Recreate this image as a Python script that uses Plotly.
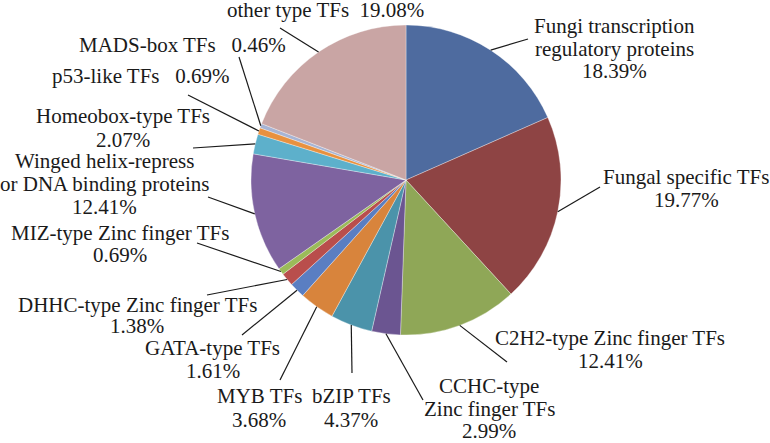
import math
import plotly.graph_objects as go

# ---- data ----
categories = [
    "Fungi transcription regulatory proteins", "Fungal specific TFs",
    "C2H2-type Zinc finger TFs", "CCHC-type Zinc finger TFs", "bZIP TFs",
    "MYB TFs", "GATA-type TFs", "DHHC-type Zinc finger TFs",
    "MIZ-type Zinc finger TFs", "Winged helix-repressor DNA binding proteins",
    "Homeobox-type TFs", "p53-like TFs", "MADS-box TFs", "other type TFs",
]
percents = [18.39, 19.77, 12.41, 2.99, 4.37, 3.68, 1.61, 1.38, 0.69, 12.41,
            2.07, 0.69, 0.46, 19.08]
NB = "\u00a0"
label_lines = [
    ["Fungi transcription", "regulatory proteins", "{p}"],
    ["Fungal specific TFs", "{p}"],
    ["C2H2-type Zinc finger TFs", "{p}"],
    ["CCHC-type", "Zinc finger TFs", "{p}"],
    ["bZIP TFs", "{p}"],
    ["MYB TFs", "{p}"],
    ["GATA-type TFs", "{p}"],
    ["DHHC-type Zinc finger TFs", "{p}"],
    ["MIZ-type Zinc finger TFs", "{p}"],
    ["Winged helix-repress", "or DNA binding proteins", "{p}"],
    ["Homeobox-type TFs", "{p}"],
    ["p53-like TFs" + NB * 3 + "{p}"],
    ["MADS-box TFs" + NB * 3 + "{p}"],
    ["other type TFs" + NB * 2 + "{p}"],
]

# ---- style / layout ----
colors = ["#4E6B9F", "#8E4444", "#8FA757", "#6B5591", "#4B93AA", "#D8843C",
          "#5A7EC2", "#B94E4C", "#9BBB59", "#7E63A0", "#5DB0CB", "#E8913F",
          "#A6B4D4", "#C9A5A4"]
W, H = 770, 443
CX, CY, R = 406, 180, 155
# label block: centre x, first baseline y (pixels)
label_pos = [(614, 33), (686, 184), (610, 345), (489, 393), (351, 403),
             (259, 403), (213, 355), (137, 312), (120, 240), (105, 168),
             (123, 123), (141, 83), (182, 52), (325, 17)]
line_gap = [22.5, 23, 23, 22.5, 24, 24, 23, 21, 22, 23, 24, 0, 0, 0]
# leader end at label side (pixels)
leader_end = [(528, 39), (600, 187), (507, 362), (423, 400), (352, 373),
              (280, 380), (242, 335), (207, 295), (197, 243), (208, 197),
              (193, 148), (188, 95), (239, 57), (280, 28)]
FS = 21
FONT = "Liberation Serif"

fig = go.Figure(go.Pie(
    labels=categories, values=percents, sort=False, direction="clockwise",
    rotation=0, textinfo="none", hoverinfo="label+percent",
    marker=dict(colors=colors, line=dict(color="rgba(255,255,255,0.55)", width=0.6)),
    domain=dict(x=[(CX - R) / W, (CX + R) / W], y=[1 - (CY + R) / H, 1 - (CY - R) / H]),
    showlegend=False,
))

total = sum(percents)
cum = 0.0
shapes, annotations = [], []
for i, v in enumerate(percents):
    mid = (cum + v / 2) / total * 2 * math.pi
    cum += v
    px = CX + R * math.sin(mid)
    py = CY - R * math.cos(mid)
    ex, ey = leader_end[i]
    shapes.append(dict(type="line", xref="paper", yref="paper",
                       x0=px / W, y0=1 - py / H, x1=ex / W, y1=1 - ey / H,
                       line=dict(color="#1a1a1a", width=1.2)))
    cx, by = label_pos[i]
    ptxt = f"{v:.2f}%"
    for k, ln in enumerate(label_lines[i]):
        base = by + k * line_gap[i]
        annotations.append(dict(
            text=ln.format(p=ptxt), xref="paper", yref="paper",
            x=cx / W, y=1 - (base - 7) / H, xanchor="center", yanchor="middle",
            showarrow=False, font=dict(family=FONT, size=FS, color="#1a1a1a")))

fig.update_layout(
    width=W, height=H, margin=dict(l=0, r=0, t=0, b=0),
    paper_bgcolor="white", plot_bgcolor="white",
    font=dict(family=FONT),
    shapes=shapes, annotations=annotations,
)
fig.write_html("out.html", config={"displayModeBar": False},
               post_script="document.body.style.margin='0';document.body.style.padding='0';")
